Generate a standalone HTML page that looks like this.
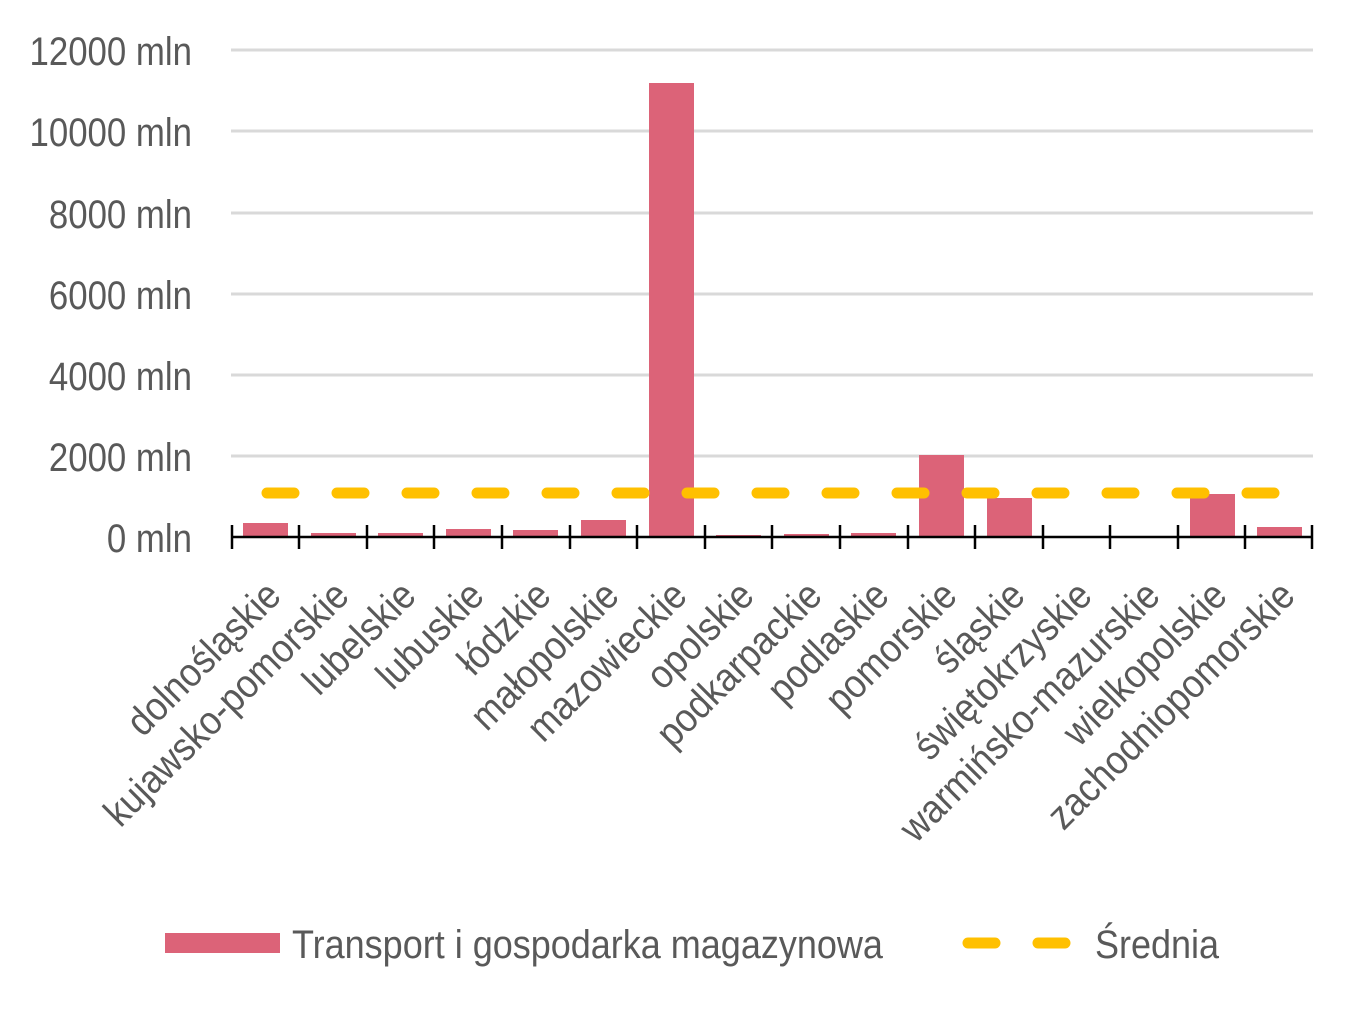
<!DOCTYPE html>
<html><head><meta charset="utf-8"><style>
html,body{margin:0;padding:0;background:#fff;}
svg text{font-family:"Liberation Sans Narrow","Liberation Sans",sans-serif;fill:#595959;}
</style></head><body>
<svg width="1364" height="1009" viewBox="0 0 1364 1009" xmlns="http://www.w3.org/2000/svg">
<g stroke="#d9d9d9" stroke-width="3">
<line x1="231" x2="1313" y1="50" y2="50"/>
<line x1="231" x2="1313" y1="131" y2="131"/>
<line x1="231" x2="1313" y1="213" y2="213"/>
<line x1="231" x2="1313" y1="294" y2="294"/>
<line x1="231" x2="1313" y1="375" y2="375"/>
<line x1="231" x2="1313" y1="456" y2="456"/>
</g>
<g font-size="40" text-anchor="end">
<text transform="translate(192,65) scale(0.87,1)">12000 mln</text>
<text transform="translate(192,146) scale(0.87,1)">10000 mln</text>
<text transform="translate(192,228) scale(0.87,1)">8000 mln</text>
<text transform="translate(192,309) scale(0.87,1)">6000 mln</text>
<text transform="translate(192,390) scale(0.87,1)">4000 mln</text>
<text transform="translate(192,471) scale(0.87,1)">2000 mln</text>
<text transform="translate(192,552) scale(0.87,1)">0 mln</text>
</g>
<g fill="#dc6378">
<rect x="243" y="523" width="45" height="14"/>
<rect x="311" y="533" width="45" height="4"/>
<rect x="378" y="533" width="45" height="4"/>
<rect x="446" y="529" width="45" height="8"/>
<rect x="513" y="530" width="45" height="7"/>
<rect x="581" y="520" width="45" height="17"/>
<rect x="649" y="83" width="45" height="454"/>
<rect x="716" y="535" width="45" height="2"/>
<rect x="784" y="534" width="45" height="3"/>
<rect x="851" y="533" width="45" height="4"/>
<rect x="919" y="455" width="45" height="82"/>
<rect x="987" y="498" width="45" height="39"/>
<rect x="1190" y="494" width="45" height="43"/>
<rect x="1257" y="527" width="45" height="10"/>
</g>
<line x1="267" x2="1277" y1="493" y2="493" stroke="#ffc000" stroke-width="11" stroke-linecap="round" stroke-dasharray="27,43"/>
<line x1="231" x2="1313" y1="537" y2="537" stroke="#000" stroke-width="2.5"/>
<g stroke="#000" stroke-width="2.5">
<line x1="232" x2="232" y1="525" y2="549"/><line x1="299" x2="299" y1="525" y2="549"/><line x1="367" x2="367" y1="525" y2="549"/><line x1="434" x2="434" y1="525" y2="549"/><line x1="502" x2="502" y1="525" y2="549"/><line x1="570" x2="570" y1="525" y2="549"/><line x1="637" x2="637" y1="525" y2="549"/><line x1="705" x2="705" y1="525" y2="549"/><line x1="772" x2="772" y1="525" y2="549"/><line x1="840" x2="840" y1="525" y2="549"/><line x1="908" x2="908" y1="525" y2="549"/><line x1="975" x2="975" y1="525" y2="549"/><line x1="1043" x2="1043" y1="525" y2="549"/><line x1="1110" x2="1110" y1="525" y2="549"/><line x1="1178" x2="1178" y1="525" y2="549"/><line x1="1245" x2="1245" y1="525" y2="549"/><line x1="1312" x2="1312" y1="525" y2="549"/>
</g>
<g font-size="40" text-anchor="end">
<text transform="translate(283,598) rotate(-45) scale(0.9,1)">dolnośląskie</text>
<text transform="translate(351,598) rotate(-45) scale(0.9,1)">kujawsko-pomorskie</text>
<text transform="translate(418,598) rotate(-45) scale(0.9,1)">lubelskie</text>
<text transform="translate(486,598) rotate(-45) scale(0.9,1)">lubuskie</text>
<text transform="translate(553,598) rotate(-45) scale(0.9,1)">łódzkie</text>
<text transform="translate(621,598) rotate(-45) scale(0.9,1)">małopolskie</text>
<text transform="translate(689,598) rotate(-45) scale(0.9,1)">mazowieckie</text>
<text transform="translate(756,598) rotate(-45) scale(0.9,1)">opolskie</text>
<text transform="translate(824,598) rotate(-45) scale(0.9,1)">podkarpackie</text>
<text transform="translate(891,598) rotate(-45) scale(0.9,1)">podlaskie</text>
<text transform="translate(959,598) rotate(-45) scale(0.9,1)">pomorskie</text>
<text transform="translate(1027,598) rotate(-45) scale(0.9,1)">śląskie</text>
<text transform="translate(1094,598) rotate(-45) scale(0.9,1)">świętokrzyskie</text>
<text transform="translate(1162,598) rotate(-45) scale(0.9,1)">warmińsko-mazurskie</text>
<text transform="translate(1229,598) rotate(-45) scale(0.9,1)">wielkopolskie</text>
<text transform="translate(1297,598) rotate(-45) scale(0.9,1)">zachodniopomorskie</text>
</g>
<rect x="165" y="933" width="115" height="20" fill="#dc6378"/>
<text transform="translate(292,958) scale(0.9,1)" font-size="40">Transport i gospodarka magazynowa</text>
<line x1="968" x2="1067" y1="943" y2="943" stroke="#ffc000" stroke-width="11" stroke-linecap="round" stroke-dasharray="27,43"/>
<text transform="translate(1095,958) scale(0.9,1)" font-size="40">Średnia</text>
</svg>
</body></html>
